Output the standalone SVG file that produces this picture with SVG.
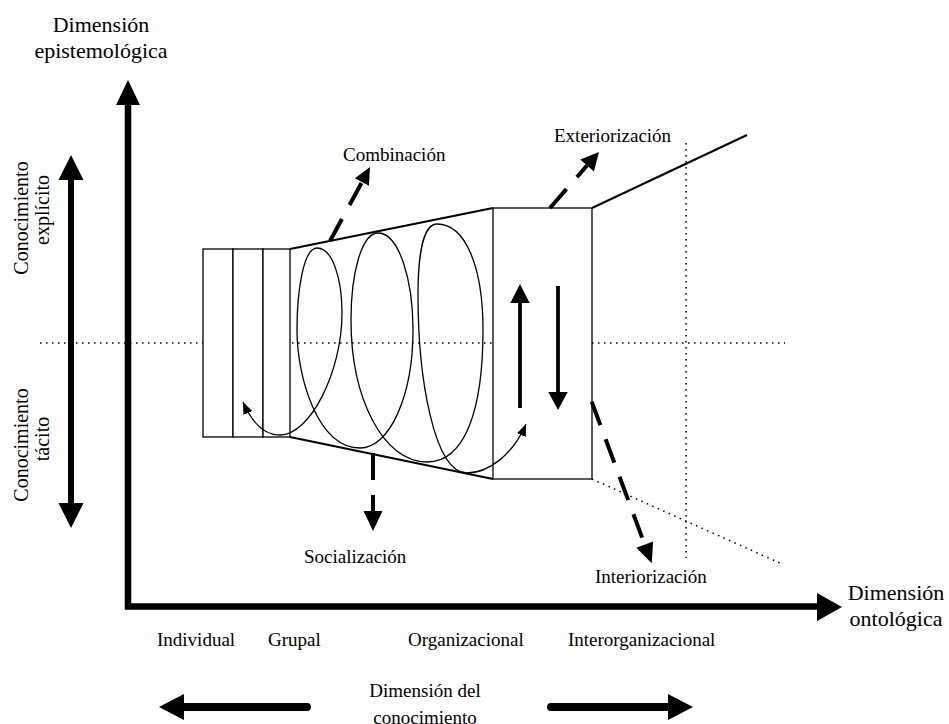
<svg xmlns="http://www.w3.org/2000/svg" width="949" height="724" viewBox="0 0 949 724">
<defs>
<style>
text{font-family:"Liberation Serif","Times New Roman",serif;fill:#000}
.lbl{font-size:19px}
.big{font-size:22px}
.rot{font-size:20px}
.box{fill:#fff;stroke:#000;stroke-width:1.3}
.edge{fill:none;stroke:#000;stroke-width:2}
.dot{fill:none;stroke:#000;stroke-width:1.5;stroke-dasharray:1.5 4.5}
.dash{fill:none;stroke:#000;stroke-width:4;stroke-dasharray:25 16}
.head{fill:#000;stroke:none}
.curve{fill:none;stroke:#000;stroke-width:1.3}
.axis{fill:none;stroke:#000;stroke-width:6.5}
.shaft{fill:none;stroke:#000;stroke-width:6}
.bshaft{fill:none;stroke:#000;stroke-width:8;stroke-linecap:round}
.vshaft{fill:none;stroke:#000;stroke-width:3.8}
</style>
<marker id="ah" viewBox="0 0 10 8" refX="10" refY="4" markerWidth="12" markerHeight="10" markerUnits="userSpaceOnUse" orient="auto-start-reverse"><path d="M0,0 L10,4 L0,8 z" fill="#000"/></marker>
</defs>
<rect width="949" height="724" fill="#fff"/>

<g id="guides">
<line class="dot" x1="40" y1="343" x2="785" y2="343"/>
<line class="dot" x1="686" y1="143" x2="686" y2="558"/>
<line class="dot" x1="592" y1="479" x2="782" y2="564"/>
</g>

<g id="axes">
<path class="axis" d="M128,102 L128,606.5 L819,606.5"/>
<polygon class="head" points="128,80 116,105 140,105"/>
<polygon class="head" points="842,607 817,593 817,621"/>
<line class="shaft" x1="71" y1="178" x2="71" y2="505"/>
<polygon class="head" points="71,155 58.5,180 83.5,180"/>
<polygon class="head" points="71,528 58.5,503 83.5,503"/>
<line class="bshaft" x1="182" y1="707" x2="307" y2="707"/>
<polygon class="head" points="159,707 184,694 184,720"/>
<line class="bshaft" x1="551" y1="707" x2="670" y2="707"/>
<polygon class="head" points="693,707 668,694 668,720"/>
</g>

<g id="node-individual"><rect class="box" x="203" y="249" width="30" height="188"/></g>
<g id="node-grupal-a"><rect class="box" x="233" y="249" width="30" height="188"/></g>
<g id="node-grupal-b"><rect class="box" x="263" y="249" width="27" height="188"/></g>
<g id="node-organizacional">
<line class="edge" x1="290" y1="249" x2="493" y2="208"/>
<line class="edge" x1="290" y1="437" x2="493" y2="479"/>
</g>
<g id="node-interorganizacional">
<rect class="box" x="493" y="208" width="99" height="271"/>
<line class="edge" x1="592" y1="208" x2="747" y2="135"/>
</g>

<g id="connectors">
<path class="curve" marker-start="url(#ah)" marker-end="url(#ah)" d="M243,402 C250,418 262,435 280,435 C310,435 342,372 342,313 C342,280 333,248 317,248 C304,248 297,288 297,330 C297,378 318,448 360,448 C390,448 413,395 413,330 C413,280 399,233 378,233 C362,233 351,272 351,320 C351,398 383,462 427,462 C465,462 483,410 483,330 C483,268 466,224 437,224 C424,224 418,252 418,295 C418,378 434,473 467,473 C488,473 513,455 526,424"/>
<line class="dash" x1="330" y1="241" x2="362" y2="182"/>
<polygon class="head" points="370,167 368.9,185.8 354.9,178.2"/>
<line class="dash" x1="550" y1="208" x2="587" y2="165.5"/>
<polygon class="head" points="599,152 593.9,171.4 580.3,159.6"/>
<line class="dash" x1="373" y1="453" x2="373" y2="512" style="stroke-dasharray:27 15"/>
<polygon class="head" points="373,531 363.5,511 382.5,511"/>
<line class="dash" x1="591.7" y1="401.7" x2="644.7" y2="544.6" style="stroke-dasharray:25 15"/>
<polygon class="head" points="651.7,563.3 653.1,541.5 636.3,547.7"/>
<line class="vshaft" x1="520" y1="408" x2="520" y2="300"/>
<polygon class="head" points="520,284 510.3,303 529.7,303"/>
<line class="vshaft" x1="558" y1="286" x2="558" y2="394"/>
<polygon class="head" points="558,410 548.3,392 567.7,392"/>
</g>

<g id="labels">
<text class="big" x="101" y="32" text-anchor="middle">Dimensión</text>
<text class="big" x="101" y="58" text-anchor="middle">epistemológica</text>
<text class="big" x="896" y="600" text-anchor="middle">Dimensión</text>
<text class="big" x="896" y="626" text-anchor="middle">ontológica</text>
<text class="rot" transform="translate(28,218) rotate(-90)" text-anchor="middle">Conocimiento</text>
<text class="rot" transform="translate(49,210) rotate(-90)" text-anchor="middle">explícito</text>
<text class="rot" transform="translate(28,445) rotate(-90)" text-anchor="middle">Conocimiento</text>
<text class="rot" transform="translate(49,439) rotate(-90)" text-anchor="middle">tácito</text>
<text class="lbl" x="343" y="161">Combinación</text>
<text class="lbl" x="554" y="142">Exteriorización</text>
<text class="lbl" x="304" y="563">Socialización</text>
<text class="lbl" x="595" y="583">Interiorización</text>
<text class="lbl" x="157" y="646">Individual</text>
<text class="lbl" x="268" y="646">Grupal</text>
<text class="lbl" x="408" y="646">Organizacional</text>
<text class="lbl" x="568" y="646">Interorganizacional</text>
<text class="lbl" x="425" y="697" text-anchor="middle">Dimensión del</text>
<text class="lbl" x="425" y="724" text-anchor="middle">conocimiento</text>
</g>
</svg>
